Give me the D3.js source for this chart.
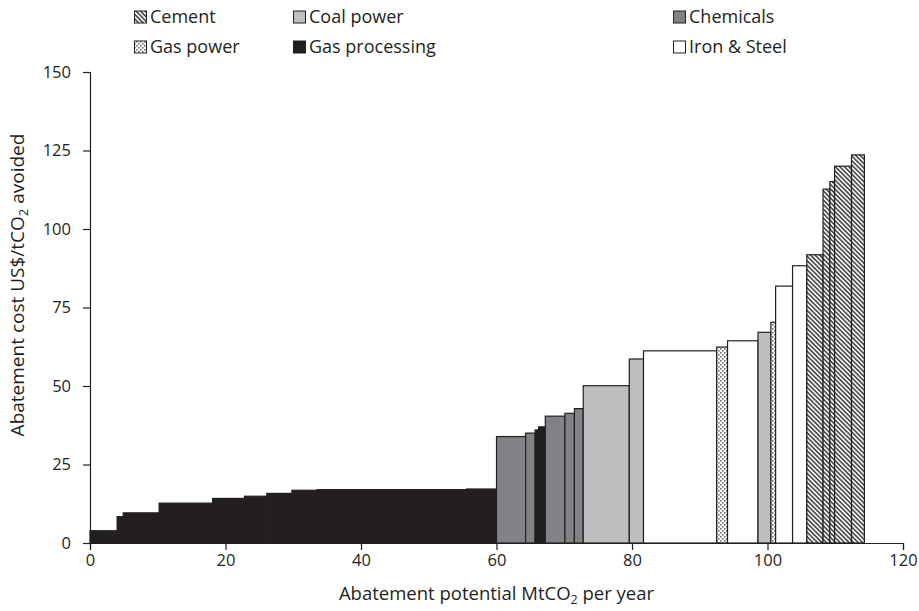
<!DOCTYPE html>
<html>
<head>
<meta charset="utf-8">
<script src="https://cdn.jsdelivr.net/npm/d3@7"></script>
<style>
  body { margin: 0; background: #fff; }
  text { font-family: "Open Sans", "Noto Sans", sans-serif; fill: #231f20; }
</style>
</head>
<body>
<div id="chart"></div>
<script>
// sector of each block, in cost order
const sectors = [
    "Gas processing", "Gas processing", "Gas processing", "Gas processing", "Gas processing",
    "Gas processing", "Gas processing", "Gas processing", "Gas processing", "Gas processing",
    "Chemicals", "Chemicals", "Gas processing", "Gas processing", "Chemicals", "Chemicals", "Chemicals",
    "Coal power", "Coal power", "Iron & Steel", "Gas power", "Iron & Steel", "Coal power", "Gas power",
    "Iron & Steel", "Iron & Steel", "Cement", "Cement", "Cement", "Cement", "Cement"
];
// abatement potential of each block (MtCO2 per year)
const potential = [
    4.0, 0.9, 5.3, 7.9, 4.7, 3.3, 3.7, 3.7, 22.1, 4.4,
    4.3, 1.4, 0.5, 1.0, 2.9, 1.4, 1.3,
    6.8, 2.1, 10.8, 1.6, 4.5, 1.9, 0.7,
    2.5, 2.1, 2.4, 1.0, 0.7, 2.5, 1.9
];
// abatement cost (US$/tCO2 avoided)
const cost = [
    3.9, 8.4, 9.6, 12.7, 14.2, 14.9, 15.8, 16.8, 17.0, 17.2,
    33.9, 35.0, 36.0, 37.0, 40.4, 41.3, 42.8,
    50.1, 58.6, 61.2, 62.4, 64.4, 67.1, 70.3,
    81.8, 88.3, 91.8, 112.7, 115.1, 120.0, 123.6
];
const legendOrder = ["Cement", "Coal power", "Chemicals", "Gas power", "Gas processing", "Iron & Steel"];
const xTicks = [0, 20, 40, 60, 80, 100, 120];
const yTicks = [0, 25, 50, 75, 100, 125, 150];

const W = 919, H = 611;
const margin = { top: 72, right: 16, bottom: 68, left: 90 };

const svg = d3.select("#chart").append("svg")
    .attr("width", W).attr("height", H);

// fill patterns
const defs = svg.append("defs");
const hatch = defs.append("pattern")
    .attr("id", "hatch").attr("patternUnits", "userSpaceOnUse")
    .attr("width", 3.2).attr("height", 3.2)
    .attr("patternTransform", "rotate(45)");
hatch.append("rect").attr("width", 3.2).attr("height", 3.2).attr("fill", "#fff");
hatch.append("rect").attr("width", 3.2).attr("height", 1.7).attr("fill", "#4d4d4f");

const dots = defs.append("pattern")
    .attr("id", "dots").attr("patternUnits", "userSpaceOnUse")
    .attr("width", 4).attr("height", 4);
dots.append("rect").attr("width", 4).attr("height", 4).attr("fill", "#fff");
dots.append("rect").attr("x", 0).attr("y", 0).attr("width", 1.6).attr("height", 1.6).attr("fill", "#6d6e71");
dots.append("rect").attr("x", 2).attr("y", 2).attr("width", 1.6).attr("height", 1.6).attr("fill", "#6d6e71");

const fillOf = {
    "Cement": "url(#hatch)",
    "Coal power": "#bcbec0",
    "Chemicals": "#808285",
    "Gas power": "url(#dots)",
    "Gas processing": "#231f20",
    "Iron & Steel": "#ffffff"
};

const x = d3.scaleLinear().domain([0, 120]).range([margin.left, W - margin.right]);
const y = d3.scaleLinear().domain([0, 150]).range([H - margin.bottom, margin.top]);

const starts = [0, ...d3.cumsum(potential)];
const blocks = sectors.map((s, i) => ({ sector: s, x0: starts[i], x1: starts[i + 1], cost: cost[i] }));

svg.append("g").selectAll("rect")
    .data(blocks).join("rect")
    .attr("x", d => x(d.x0))
    .attr("y", d => y(d.cost))
    .attr("width", d => x(d.x1) - x(d.x0))
    .attr("height", d => y(0) - y(d.cost))
    .attr("fill", d => fillOf[d.sector])
    .attr("stroke", "#231f20")
    .attr("stroke-width", 1.2);

// axes
const xAxis = svg.append("g")
    .attr("transform", `translate(0,${y(0)})`)
    .call(d3.axisBottom(x).tickValues(xTicks).tickSize(7).tickPadding(4));
const yAxis = svg.append("g")
    .attr("transform", `translate(${x(0)},0)`)
    .call(d3.axisLeft(y).tickValues(yTicks).tickSize(7).tickPadding(12));
[xAxis, yAxis].forEach(a => {
    a.select(".domain").attr("stroke", "#231f20").attr("stroke-width", 1.2);
    a.selectAll(".tick line").attr("stroke", "#231f20").attr("stroke-width", 1.2);
    a.selectAll(".tick text").attr("font-size", 16.5).attr("fill", "#231f20")
        .style("font-family", '"Open Sans", sans-serif');
});

// axis titles
const xt = svg.append("text")
    .attr("x", (x(0) + x(120)) / 2).attr("y", 600)
    .attr("text-anchor", "middle").attr("font-size", 18.5);
xt.append("tspan").text("Abatement potential MtCO");
xt.append("tspan").attr("font-size", 12.5).attr("dy", 4).text("2");
xt.append("tspan").attr("dy", -4).text(" per year");

const yt = svg.append("text")
    .attr("transform", `translate(24,${y(0) - 258}) rotate(-90)`)
    .attr("text-anchor", "middle").attr("font-size", 19);
yt.append("tspan").text("Abatement cost US$/tCO");
yt.append("tspan").attr("font-size", 13).attr("dy", 4).text("2");
yt.append("tspan").attr("dy", -4).text(" avoided");

// legend
const legendX = [134, 293, 673];
const legendY = [17, 47];
const leg = svg.append("g").selectAll("g")
    .data(legendOrder).join("g")
    .attr("transform", (d, i) => `translate(${legendX[i % 3]},${legendY[Math.floor(i / 3)]})`);
leg.append("rect")
    .attr("x", 0.5).attr("y", -6).attr("width", 12).attr("height", 12)
    .attr("fill", d => fillOf[d]).attr("stroke", "#231f20").attr("stroke-width", 1);
leg.append("text")
    .attr("x", 16).attr("y", 0).attr("dy", "0.35em")
    .attr("font-size", 18).text(d => d);
</script>
</body>
</html>
